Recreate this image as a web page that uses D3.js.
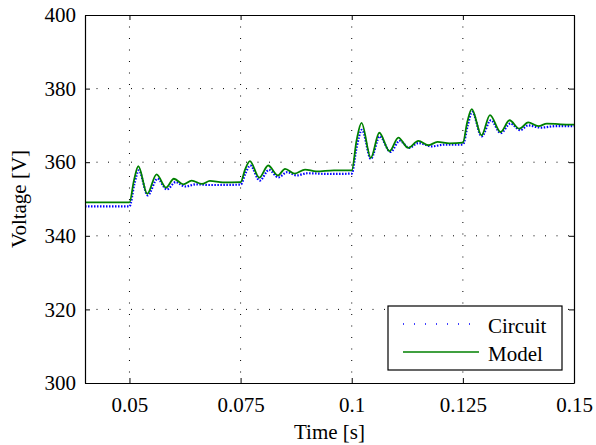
<!DOCTYPE html>
<html>
<head>
<meta charset="utf-8">
<script src="https://cdn.jsdelivr.net/npm/d3@7"></script>
<style>
  body { margin: 0; background: #fff; }
</style>
</head>
<body>
<svg width="596" height="445"></svg>
<script>
// values
var xTicks = [0.05, 0.075, 0.1, 0.125, 0.15];
var yTicks = [300, 320, 340, 360, 380, 400];

var circuitT = [0.040, 0.050, 0.0511, 0.0521, 0.0541, 0.0563, 0.0584, 0.0604, 0.0625, 0.0650, 0.0680, 0.0750,
                0.0761, 0.0772, 0.0793, 0.0814, 0.0835, 0.0855, 0.0876, 0.0900, 0.0950, 0.1000,
                0.1011, 0.1023, 0.1043, 0.1063, 0.1087, 0.1108, 0.1129, 0.1150, 0.1180, 0.1210, 0.1250,
                0.1261, 0.1271, 0.1292, 0.1313, 0.1335, 0.1357, 0.1379, 0.1397, 0.1425, 0.1460, 0.1500];
var circuitV = [348.0, 348.0, 354.0, 357.8, 351.0, 355.5, 352.6, 354.6, 353.4, 354.0, 353.8, 353.9,
                357.0, 359.1, 355.0, 357.9, 355.9, 357.3, 356.4, 357.0, 356.8, 356.9,
                364.0, 368.8, 360.9, 367.0, 362.8, 365.8, 363.9, 365.2, 364.3, 364.8, 364.8,
                370.0, 373.7, 367.0, 371.4, 367.9, 370.5, 368.7, 370.0, 369.4, 369.8, 369.8];

var modelT = [0.040, 0.050, 0.0510, 0.0520, 0.0540, 0.0561, 0.0582, 0.0600, 0.0621, 0.0640, 0.0663, 0.0681, 0.0710, 0.0750,
              0.0760, 0.0771, 0.0792, 0.0812, 0.0834, 0.0850, 0.0872, 0.0895, 0.0920, 0.0960, 0.1000,
              0.1011, 0.1022, 0.1043, 0.1062, 0.1085, 0.1105, 0.1127, 0.1150, 0.1172, 0.1193, 0.1220, 0.1250,
              0.1260, 0.1270, 0.1292, 0.1311, 0.1335, 0.1355, 0.1377, 0.1397, 0.1420, 0.1439, 0.1470, 0.1500];
var modelV = [349.1, 349.1, 355.0, 358.9, 351.4, 356.7, 353.1, 355.5, 354.0, 355.0, 354.1, 354.9, 354.5, 354.6,
              358.0, 360.3, 355.8, 359.1, 356.4, 358.2, 356.9, 358.0, 357.5, 357.8, 357.8,
              366.0, 370.7, 361.2, 368.0, 363.0, 366.7, 363.9, 365.8, 364.6, 365.5, 365.1, 365.3,
              371.0, 374.4, 367.3, 372.8, 368.2, 371.4, 369.1, 370.8, 369.8, 370.5, 370.3, 370.2];

var svg = d3.select("svg"),
    margin = {top: 15, right: 22, bottom: 62, left: 85},
    width = +svg.attr("width") - margin.left - margin.right,
    height = +svg.attr("height") - margin.top - margin.bottom,
    x = d3.scaleLinear().domain([0.04, 0.15]).range([0, width]),
    y = d3.scaleLinear().domain([300, 400]).range([height, 0]),
    g = svg.append("g").attr("transform", "translate(" + margin.left + "," + margin.top + ")");

// dotted grid
g.selectAll(".gx").data(xTicks.slice(0, -1)).enter().append("line")
    .attr("x1", function(d) { return x(d); }).attr("x2", function(d) { return x(d); })
    .attr("y1", 0).attr("y2", height)
    .attr("stroke", "#000").attr("stroke-width", 1).attr("stroke-dasharray", "1,10.5");
g.selectAll(".gy").data(yTicks.slice(1, -1)).enter().append("line")
    .attr("y1", function(d) { return y(d); }).attr("y2", function(d) { return y(d); })
    .attr("x1", 0).attr("x2", width)
    .attr("stroke", "#000").attr("stroke-width", 1).attr("stroke-dasharray", "1,10.5");

// curves
g.append("clipPath").attr("id", "clip").append("rect").attr("width", width).attr("height", height);
var line = d3.line().x(function(d) { return x(d[0]); }).y(function(d) { return y(d[1]); }).curve(d3.curveMonotoneX);

g.append("path")
    .datum(d3.zip(circuitT, circuitV))
    .attr("clip-path", "url(#clip)")
    .attr("fill", "none").attr("stroke", "#0000ff").attr("stroke-width", 2.2)
    .attr("stroke-dasharray", "1.5,1.5")
    .attr("d", line);

g.append("path")
    .datum(d3.zip(modelT, modelV))
    .attr("clip-path", "url(#clip)")
    .attr("fill", "none").attr("stroke", "#008000").attr("stroke-width", 1.8)
    .attr("d", line);

// axes, ticks inside on all four sides
var fmtX = function(d) { return String(d); };
g.append("g").attr("transform", "translate(0," + height + ")")
    .call(d3.axisBottom(x).tickValues(xTicks).tickSizeInner(-5).tickSizeOuter(0).tickPadding(14).tickFormat(fmtX));
g.append("g")
    .call(d3.axisTop(x).tickValues(xTicks).tickSizeInner(-5).tickSizeOuter(0).tickFormat(""));
g.append("g")
    .call(d3.axisLeft(y).tickValues(yTicks).tickSizeInner(-5).tickSizeOuter(0).tickPadding(9));
g.append("g").attr("transform", "translate(" + width + ",0)")
    .call(d3.axisRight(y).tickValues(yTicks).tickSizeInner(-5).tickSizeOuter(0).tickFormat(""));

g.selectAll(".domain").attr("stroke", "#000").attr("stroke-width", 1.2);
g.selectAll(".tick line").attr("stroke", "#000");
g.selectAll(".tick text").attr("font-size", 21).attr("fill", "#000");

// axis titles
svg.append("text")
    .attr("x", margin.left + width / 2).attr("y", 439)
    .attr("text-anchor", "middle").attr("font-size", 21)
    .text("Time [s]");
svg.append("text")
    .attr("transform", "translate(26," + (margin.top + height / 2) + ") rotate(-90)")
    .attr("text-anchor", "middle").attr("font-size", 21)
    .text("Voltage [V]");

// legend
var lg = svg.append("g").attr("transform", "translate(388,306)");
lg.append("rect").attr("width", 174).attr("height", 64)
    .attr("fill", "#fff").attr("stroke", "#000").attr("stroke-width", 1.2);
lg.append("line").attr("x1", 15).attr("x2", 91).attr("y1", 18).attr("y2", 18)
    .attr("stroke", "#0000ff").attr("stroke-width", 1.3).attr("stroke-dasharray", "1,10");
lg.append("line").attr("x1", 15).attr("x2", 91).attr("y1", 46).attr("y2", 46)
    .attr("stroke", "#008000").attr("stroke-width", 1.3);
lg.append("text").attr("x", 100).attr("y", 27).attr("font-size", 21).text("Circuit");
lg.append("text").attr("x", 100).attr("y", 55).attr("font-size", 21).text("Model");

// serif text everywhere, like the figure
svg.selectAll("text").style("font-family", "'Liberation Serif', serif");
</script>
</body>
</html>
